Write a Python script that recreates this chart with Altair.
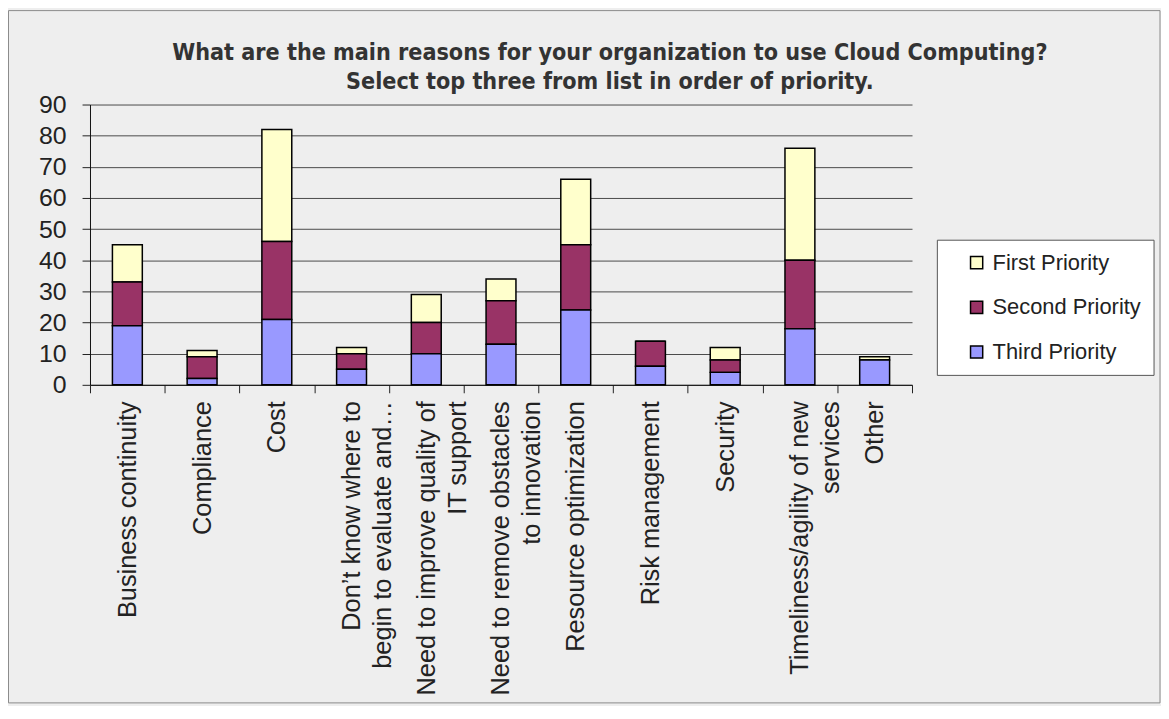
import altair as alt
import pandas as pd

categories = [
    "Business continuity",
    "Compliance",
    "Cost",
    "Don\u2019t know where to|begin to evaluate and\u2026",
    "Need to improve quality of|IT support",
    "Need to remove obstacles|to innovation",
    "Resource optimization",
    "Risk management",
    "Security",
    "Timeliness/agility of new|services",
    "Other",
]
third_priority = [19, 2, 21, 5, 10, 13, 24, 6, 4, 18, 8]
second_priority = [14, 7, 25, 5, 10, 14, 21, 8, 4, 22, 0]
first_priority = [12, 2, 36, 2, 9, 7, 21, 0, 4, 36, 1]

series_names = ["First Priority", "Second Priority", "Third Priority"]
series_colors = ["#FFFFCC", "#993366", "#9999FF"]
stack_rank = {"Third Priority": 0, "Second Priority": 1, "First Priority": 2}

title_lines = [
    "What are the main reasons for your organization to use Cloud Computing?",
    "Select top three from list in order of priority.",
]
y_ticks = list(range(0, 100, 10))

rows = []
for name, vals in zip(series_names, [first_priority, second_priority, third_priority]):
    for c, v in zip(categories, vals):
        rows.append({"category": c, "series": name, "value": v, "rank": stack_rank[name]})
df = pd.DataFrame(rows)

FONT = "Liberation Sans, Arial, sans-serif"
TITLE_FONT = "Liberation Sans Narrow, Arial Narrow, DejaVu Sans Condensed, sans-serif"

W, H = 827, 282
PAD = {"left": 82.5, "top": 95, "right": 250.5, "bottom": 321}

bars = alt.Chart(df).mark_bar(
    width=alt.RelativeBandSize(0.4), stroke="black", strokeWidth=1.5
).encode(
    x=alt.X(
        "category:N",
        sort=categories,
        scale=alt.Scale(paddingInner=0, paddingOuter=0),
        axis=alt.Axis(
            title=None,
            labelAngle=270,
            labelExpr="split(datum.label, '|')",
            labelFont=FONT,
            labelFontSize=25.5,
            labelColor="#222222",
            labelLineHeight=31,
            labelLimit=500,
            labelPadding=8,
            tickBand="extent",
            tickSize=8,
            tickColor="#222222",
            domainColor="#111111",
            grid=False,
        ),
    ),
    y=alt.Y(
        "value:Q",
        stack="zero",
        scale=alt.Scale(domain=[0, 90], nice=False),
        axis=alt.Axis(
            title=None,
            values=y_ticks,
            labelFont=FONT,
            labelFontSize=25,
            labelColor="#222222",
            labelPadding=16,
            tickSize=8,
            tickColor="#222222",
            domainColor="#111111",
            grid=True,
            gridColor="#4a4a4a",
            gridWidth=1,
        ),
    ),
    color=alt.Color(
        "series:N",
        scale=alt.Scale(domain=series_names, range=series_colors),
        legend=alt.Legend(
            title=None,
            orient="none",
            legendX=852,
            legendY=136,
            fillColor="white",
            strokeColor="#555555",
            padding=12,
            symbolOffset=17,
            symbolType="square",
            symbolSize=150,
            symbolStrokeColor="black",
            symbolStrokeWidth=1.5,
            labelFont=FONT,
            labelFontSize=22,
            labelColor="#222222",
            labelOffset=5,
            rowPadding=23,
        ),
    ),
    order=alt.Order("rank:Q", sort="ascending"),
)

frame = alt.Chart(alt.Data(values=[{"f": 1}])).mark_rect(
    filled=False, stroke="#8a8a8a", strokeWidth=1
).encode(
    x=alt.value(-82),
    x2=alt.value(W + PAD["right"] - 1),
    y=alt.value(-94.5),
    y2=alt.value(H + PAD["bottom"] - 1),
)

chart = alt.layer(frame, bars).properties(
    width=W,
    height=H,
    padding=PAD,
    autosize=alt.AutoSizeParams(type="none"),
    background="#EEEEEE",
    title=alt.TitleParams(
        text=title_lines,
        font=TITLE_FONT,
        fontSize=23.3,
        fontWeight="bold",
        color="#333333",
        anchor="middle",
        frame="group",
        dx=109.5,
        offset=-84.5,
        lineHeight=29,
    ),
).configure_view(stroke=None)

chart.save("out.html", embed_options={"renderer": "svg", "actions": False})
